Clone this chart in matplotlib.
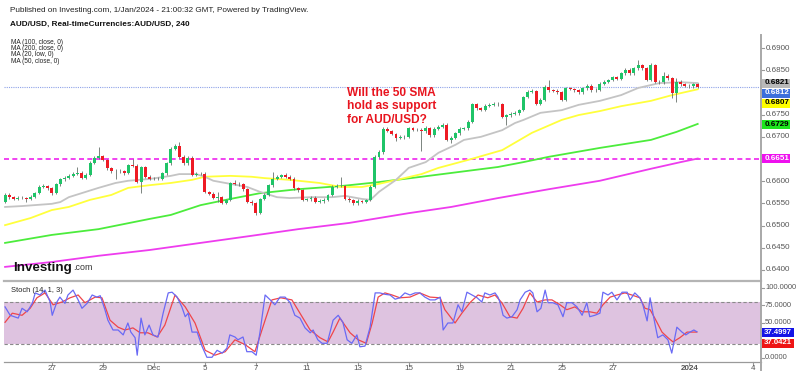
import matplotlib
matplotlib.use("Agg")
import matplotlib.pyplot as plt
from matplotlib import transforms
from matplotlib.patches import Rectangle
from matplotlib.lines import Line2D

plt.rcParams['font.family'] = ['Liberation Sans', 'DejaVu Sans']

W, H = 800, 376

# ---- AUD/USD 4h candles (bar index = one 4h bar) ----
first_open = 0.6554
close = [
    0.6570, 0.6564, 0.6561, 0.6563, 0.6562, 0.6561, 0.6565, 0.6573, 0.6588, 0.6589,
    0.6584, 0.6573, 0.6593, 0.6604, 0.6608, 0.6612, 0.6617, 0.6619, 0.6608, 0.6615,
    0.6642, 0.6653, 0.6657, 0.6648, 0.6629, 0.6623, 0.6624, 0.6623, 0.6618, 0.6636,
    0.6635, 0.6599, 0.6632, 0.6610, 0.6606, 0.6605, 0.6606, 0.6618, 0.6640, 0.6673,
    0.6680, 0.6655, 0.6640, 0.6653, 0.6615, 0.6616, 0.6617, 0.6576, 0.6572, 0.6563,
    0.6564, 0.6552, 0.6557, 0.6595, 0.6594, 0.6593, 0.6582, 0.6554, 0.6550, 0.6528,
    0.6560, 0.6569, 0.6591, 0.6605, 0.6610, 0.6614, 0.6610, 0.6606, 0.6584, 0.6580,
    0.6558, 0.6559, 0.6563, 0.6554, 0.6555, 0.6558, 0.6569, 0.6588, 0.6590, 0.6589,
    0.6561, 0.6558, 0.6550, 0.6555, 0.6554, 0.6558, 0.6588, 0.6655, 0.6665, 0.6718,
    0.6713, 0.6706, 0.6697, 0.6700, 0.6700, 0.6719, 0.6715, 0.6716, 0.6712, 0.6720,
    0.6703, 0.6718, 0.6723, 0.6727, 0.6693, 0.6698, 0.6708, 0.6718, 0.6719, 0.6734,
    0.6773, 0.6764, 0.6761, 0.6770, 0.6772, 0.6775, 0.6773, 0.6745, 0.6748, 0.6752,
    0.6753, 0.6760, 0.6790, 0.6802, 0.6803, 0.6775, 0.6784, 0.6813, 0.6805, 0.6804,
    0.6800, 0.6783, 0.6809, 0.6808, 0.6805, 0.6800, 0.6809, 0.6815, 0.6805, 0.6806,
    0.6820, 0.6824, 0.6828, 0.6835, 0.6830, 0.6843, 0.6851, 0.6843, 0.6854, 0.6862,
    0.6854, 0.6828, 0.6862, 0.6824, 0.6823, 0.6838, 0.6832, 0.6798, 0.6824, 0.6818,
    0.6815, 0.6814, 0.6818, 0.6812]
high = [
    0.6574, 0.6573, 0.6567, 0.6566, 0.6566, 0.6565, 0.6568, 0.6576, 0.6591, 0.6593,
    0.6592, 0.6586, 0.6596, 0.6607, 0.6612, 0.6616, 0.6621, 0.6633, 0.6622, 0.6619,
    0.6645, 0.6657, 0.6678, 0.6660, 0.6651, 0.6632, 0.6628, 0.6627, 0.6626, 0.6639,
    0.6651, 0.6638, 0.6635, 0.6635, 0.6613, 0.6609, 0.6609, 0.6621, 0.6643, 0.6676,
    0.6684, 0.6689, 0.6658, 0.6656, 0.6656, 0.6620, 0.6621, 0.6620, 0.6579, 0.6575,
    0.6575, 0.6567, 0.6560, 0.6598, 0.6602, 0.6598, 0.6596, 0.6585, 0.6557, 0.6553,
    0.6563, 0.6573, 0.6594, 0.6621, 0.6613, 0.6617, 0.6619, 0.6613, 0.6609, 0.6587,
    0.6583, 0.6563, 0.6567, 0.6566, 0.6559, 0.6562, 0.6572, 0.6591, 0.6594, 0.6610,
    0.6592, 0.6564, 0.6561, 0.6559, 0.6558, 0.6561, 0.6591, 0.6658, 0.6670, 0.6721,
    0.6722, 0.6716, 0.6709, 0.6704, 0.6704, 0.6722, 0.6723, 0.6720, 0.6719, 0.6724,
    0.6723, 0.6721, 0.6727, 0.6731, 0.6730, 0.6702, 0.6711, 0.6721, 0.6723, 0.6737,
    0.6776, 0.6777, 0.6768, 0.6773, 0.6776, 0.6779, 0.6779, 0.6776, 0.6752, 0.6755,
    0.6757, 0.6763, 0.6793, 0.6805, 0.6807, 0.6806, 0.6787, 0.6816, 0.6828, 0.6808,
    0.6807, 0.6803, 0.6812, 0.6812, 0.6811, 0.6808, 0.6812, 0.6818, 0.6818, 0.6809,
    0.6823, 0.6827, 0.6831, 0.6838, 0.6838, 0.6846, 0.6854, 0.6854, 0.6857, 0.6873,
    0.6865, 0.6857, 0.6866, 0.6865, 0.6827, 0.6845, 0.6841, 0.6835, 0.6833, 0.6827,
    0.6821, 0.6818, 0.6821, 0.6821]
low = [
    0.6551, 0.6561, 0.6558, 0.6558, 0.6559, 0.6554, 0.6558, 0.6563, 0.6571, 0.6585,
    0.6581, 0.6570, 0.6571, 0.6590, 0.6601, 0.6605, 0.6609, 0.6614, 0.6605, 0.6604,
    0.6612, 0.6639, 0.6650, 0.6645, 0.6626, 0.6619, 0.6606, 0.6619, 0.6615, 0.6616,
    0.6632, 0.6596, 0.6573, 0.6607, 0.6603, 0.6602, 0.6602, 0.6603, 0.6615, 0.6637,
    0.6670, 0.6652, 0.6637, 0.6637, 0.6612, 0.6612, 0.6613, 0.6573, 0.6569, 0.6560,
    0.6554, 0.6549, 0.6549, 0.6555, 0.6591, 0.6590, 0.6579, 0.6551, 0.6547, 0.6524,
    0.6525, 0.6557, 0.6567, 0.6588, 0.6602, 0.6607, 0.6607, 0.6602, 0.6581, 0.6576,
    0.6555, 0.6555, 0.6556, 0.6551, 0.6551, 0.6552, 0.6555, 0.6566, 0.6585, 0.6586,
    0.6558, 0.6554, 0.6546, 0.6547, 0.6551, 0.6551, 0.6555, 0.6585, 0.6652, 0.6662,
    0.6710, 0.6703, 0.6690, 0.6694, 0.6696, 0.6697, 0.6712, 0.6712, 0.6667, 0.6709,
    0.6700, 0.6700, 0.6715, 0.6720, 0.6690, 0.6686, 0.6695, 0.6705, 0.6715, 0.6716,
    0.6731, 0.6761, 0.6758, 0.6758, 0.6767, 0.6769, 0.6770, 0.6742, 0.6727, 0.6745,
    0.6749, 0.6750, 0.6757, 0.6787, 0.6799, 0.6772, 0.6772, 0.6781, 0.6802, 0.6801,
    0.6797, 0.6780, 0.6780, 0.6805, 0.6802, 0.6797, 0.6797, 0.6806, 0.6802, 0.6802,
    0.6803, 0.6817, 0.6821, 0.6825, 0.6827, 0.6827, 0.6840, 0.6840, 0.6840, 0.6851,
    0.6851, 0.6825, 0.6825, 0.6821, 0.6820, 0.6820, 0.6829, 0.6787, 0.6779, 0.6815,
    0.6812, 0.6811, 0.6811, 0.6809]

# ---- moving averages, read at sparse bars ----
ma20_x = [0, 4, 11, 13, 15, 19, 22, 26, 29, 34, 39, 41, 45, 47, 49, 53, 57, 60, 64, 67,
          72, 77, 80, 84, 86, 88, 92, 95, 99, 102, 106, 108, 112, 117, 120, 122, 126,
          131, 135, 140, 145, 149, 154, 159, 163]
ma20 = [0.6542, 0.6544, 0.6549, 0.6553, 0.6564, 0.6576, 0.6585, 0.6596, 0.6601, 0.6605,
        0.6612, 0.6616, 0.6616, 0.6610, 0.6601, 0.6594, 0.6587, 0.6576, 0.6564, 0.6562,
        0.6564, 0.6564, 0.6567, 0.6560, 0.6558, 0.6576, 0.6603, 0.6630, 0.6643, 0.6664,
        0.6682, 0.6693, 0.6700, 0.6715, 0.6731, 0.6738, 0.6754, 0.6760, 0.6772, 0.6781,
        0.6794, 0.6810, 0.6821, 0.6823, 0.6821]
ma50_x = [0, 6, 11, 15, 20, 25, 29, 34, 39, 44, 47, 53, 58, 61, 67, 74, 79, 84, 88, 94,
          98, 102, 109, 117, 124, 131, 135, 140, 145, 152, 157, 163]
ma50 = [0.6501, 0.6517, 0.6535, 0.6542, 0.6558, 0.6569, 0.6585, 0.6591, 0.6596, 0.6603,
        0.6610, 0.6612, 0.6610, 0.6607, 0.6603, 0.6596, 0.6587, 0.6587, 0.6594, 0.6607,
        0.6616, 0.6630, 0.6648, 0.6670, 0.6709, 0.6738, 0.6749, 0.6758, 0.6769, 0.6781,
        0.6794, 0.6807]
ma100_x = [0, 11, 22, 34, 39, 46, 53, 60, 69, 79, 88, 98, 107, 116, 122, 128, 140, 152, 158, 163]
ma100 = [0.6461, 0.6479, 0.6492, 0.6515, 0.6524, 0.6546, 0.6560, 0.6573, 0.6582, 0.6589,
         0.6598, 0.6610, 0.6621, 0.6632, 0.6643, 0.6655, 0.6675, 0.6693, 0.6711, 0.6729]
ma200_x = [0, 11, 22, 34, 46, 58, 69, 81, 95, 105, 116, 128, 140, 152, 159, 163]
ma200 = [0.6407, 0.6418, 0.6432, 0.6445, 0.6461, 0.6477, 0.6492, 0.6506, 0.6528, 0.6542,
         0.6562, 0.6582, 0.6601, 0.6628, 0.6643, 0.6651]

# ---- stochastic (14, 1, 3) ----
k_x = [0, 1.2, 3.1, 4, 5.2, 6.4, 7.1, 8.2, 9.4, 10.6, 11.1, 12.2, 12.9, 14.1, 14.8, 16, 17.2,
       18.1, 19.3, 20.5, 21.6, 22.4, 23.5, 24.2, 25.4, 26.6, 27.8, 28.9, 29.6, 30.6, 31.1, 32,
       32.9, 33.9, 34.8, 36, 37.2, 38.4, 39.3, 40.5, 41.6, 42.4, 43.1, 44, 45.2, 46.4, 47.5,
       48.7, 49.9, 51.1, 52.2, 52.9, 54.1, 54.8, 56, 56.9, 58.1, 59.1, 60, 61.2, 62.4, 63.5,
       64.7, 65.9, 67.1, 68.2, 69.4, 70.6, 71.8, 72.5, 73.6, 74.6, 75.8, 77.2, 78.4, 79.5,
       80.5, 81.6, 82.8, 83.5, 84.7, 85.9, 87.1, 88.2, 89.4, 90.6, 91.8, 92.9, 94.1, 95.3,
       96.5, 97.6, 98.8, 100, 101.2, 102.4, 103.1, 104.2, 105.4, 106.6, 107.5, 108.7, 109.9,
       111.1, 112.2, 112.9, 114.1, 115.3, 116, 116.5, 117.2, 118.1, 119.3, 120.5, 121.2,
       122.4, 123.5, 124.2, 125.2, 126.1, 127.1, 127.8, 128.9, 130.1, 131.3, 132.2, 133.4,
       134.6, 135.8, 136.9, 137.6, 138.8, 140, 140.7, 141.9, 142.8, 144, 145.2, 146.4, 147.1,
       148.2, 149.4, 150.1, 151.1, 151.8, 152.9, 153.6, 154.8, 156, 156.9, 158.1, 159.3,
       160.2, 161.2, 162.1, 162.8]
k_val = [73, 61, 57, 71, 66, 78, 93, 90, 97, 80, 61, 80, 87, 78, 90, 97, 83,
         71, 78, 90, 87, 89, 69, 54, 40, 40, 33, 50, 37, 29, 4, 57,
         33, 47, 33, 30, 64, 93, 94, 87, 73, 59, 64, 37, 37, 16, 1,
         1, 11, 7, 14, 33, 30, 26, 30, 9, 9, 4, 37, 90, 83, 76,
         87, 87, 79, 61, 57, 43, 36, 40, 26, 21, 21, 54, 61, 51,
         26, 21, 33, 16, 17, 44, 93, 93, 91, 90, 84, 86, 93, 90,
         93, 93, 87, 83, 83, 87, 40, 50, 50, 76, 66, 94, 90,
         86, 80, 93, 90, 93, 87, 79, 61, 57, 59, 69, 83,
         94, 97, 93, 66, 71, 97, 79, 79, 76, 59, 79, 79,
         73, 61, 79, 59, 61, 64, 94, 90, 94, 83, 94, 94, 83,
         93, 86, 76, 53, 86, 50, 29, 33, 26, 7, 44, 37,
         33, 37, 40, 37.4997]
d_x = [0, 1.7, 4, 5.9, 7.5, 9.4, 11.3, 13.4, 15.3, 17.2, 18.8, 21.2, 22.8, 24.7, 26.6, 28.2,
       30.1, 31.8, 33.6, 35.8, 37.6, 40, 42.4, 44.7, 47.1, 49.4, 51.8, 54.1, 56.5, 58.8, 61.2,
       62.8, 64.9, 67.5, 69.4, 71.8, 74.1, 76, 77.2, 78.8, 81.2, 83.1, 85, 86.4, 87.8, 89.4,
       91.1, 92.9, 95.3, 97.6, 100, 102.4, 103.5, 105.9, 107.5, 109.4, 111.3, 113.6, 115.3,
       116.9, 118.8, 120.5, 121.9, 123.5, 125.2, 127.1, 128.7, 130.6, 132.2, 134.1, 135.8,
       137.6, 139.3, 140.7, 142.4, 144, 145.9, 147.5, 149.4, 150.6, 151.8, 152.9, 154.6, 156,
       157.2, 158.8, 160.5, 161.6, 162.8]
d_val = [51, 64, 61, 71, 86, 93, 76, 80, 86, 90, 79, 87, 86, 54, 44, 40,
         43, 36, 36, 30, 47, 90, 73, 50, 11, 4, 9, 26, 19, 9, 54,
         83, 86, 83, 64, 40, 29, 23, 37, 57, 36, 26, 21, 50, 87, 93,
         90, 86, 87, 93, 87, 86, 69, 50, 64, 79, 90, 86, 90,
         79, 59, 57, 71, 93, 80, 83, 83, 76, 69, 73, 66,
         66, 64, 76, 87, 90, 93, 90, 86, 71, 69, 57, 37, 29,
         23, 29, 37, 37, 37.0421]

price_ticks = [0.6400, 0.6450, 0.6500, 0.6550, 0.6600, 0.6650, 0.6700, 0.6750, 0.6800, 0.6850, 0.6900]
stoch_ticks = [0, 50, 75, 100]
date_pos = [11, 23, 35, 47, 59, 71, 83, 95, 107, 119, 131, 143, 161, 176]
date_lbl = ["27", "29", "Dec", "5", "7", "11", "13", "15", "19", "21", "25", "27", "2024", "4"]
ma_names = ["MA (100, close, 0)", "MA (200, close, 0)", "MA (20, low, 0)", "MA (50, close, 0)"]
last_price = close[-1]
level_200 = ma200[-1]

GREEN, RED = '#1fc468', '#ee1b24'
C20, C50, C100, C200 = '#c4c4c4', '#ffff3c', '#4cec3c', '#ee3cee'


def fx(px):
    return px / W


def fy(py):
    return 1 - py / H


fig = plt.figure(figsize=(W / 100, H / 100), dpi=100)
fig.patch.set_facecolor('white')

ax = fig.add_axes([fx(4), fy(281), (761 - 4) / W, (281 - 35) / H])
axs = fig.add_axes([fx(4), fy(361), (761 - 4) / W, (361 - 281) / H])
for a in (ax, axs):
    a.set_xlim(-0.25, 177.9)
    a.set_xticks([])
    a.set_yticks([])
    for s in a.spines.values():
        s.set_visible(False)
ax.set_ylim(0.63752, 0.69293)
axs.set_ylim(-4.3, 110)

# horizontal levels
ax.axhline(level_200, color='#ee22ee', lw=1.2, dashes=(3, 2), zorder=1)
ax.axhline(last_price, color='#8fa3e8', lw=0.8, ls=(0, (1, 1)), zorder=1)

# moving averages
ax.plot(ma200_x, ma200, color=C200, lw=1.3, zorder=2)
ax.plot(ma100_x, ma100, color=C100, lw=1.3, zorder=2)
ax.plot(ma50_x, ma50, color=C50, lw=1.3, zorder=2)
ax.plot(ma20_x, ma20, color=C20, lw=1.3, zorder=2)

# candles
opens = [first_open] + close[:-1]
xs = list(range(len(close)))
ax.vlines(xs, low, high, color='#66706a', lw=0.6, zorder=3)
bottoms = [min(o, c) for o, c in zip(opens, close)]
heights = [max(abs(c - o), 0.00006) for o, c in zip(opens, close)]
cols = [GREEN if c >= o else RED for o, c in zip(opens, close)]
ax.bar(xs, heights, bottom=bottoms, width=0.7, color=cols, lw=0, zorder=4)

# stochastic panel
axs.axhspan(20, 80, color='#dec3e0', lw=0, zorder=0)
axs.axhline(80, color='#8a8a8a', lw=0.8, dashes=(3, 2), zorder=1)
axs.axhline(20, color='#8a8a8a', lw=0.8, dashes=(3, 2), zorder=1)
axs.plot(d_x, d_val, color='#f0454a', lw=0.9, zorder=2)
axs.plot(k_x, k_val, color='#6a6af5', lw=0.9, zorder=3)

# frame lines
fig.add_artist(Line2D([fx(4), fx(761)], [fy(281), fy(281)], color='#b4b4b4', lw=1.6))
fig.add_artist(Line2D([fx(4), fx(761)], [fy(361.5), fy(361.5)], color='#9a9a9a', lw=0.9))
fig.add_artist(Line2D([fx(761), fx(761)], [fy(35), fy(370)], color='#a8a8a8', lw=1.4))

# right price axis labels
tp = transforms.blended_transform_factory(fig.transFigure, ax.transData)
for p in price_ticks:
    ax.plot([fx(761), fx(764)], [p, p], transform=tp, color='#999999', lw=0.8, clip_on=False)
    ax.text(fx(766), p, f"{p:.4f}", transform=tp, fontsize=5.8, color='#555555',
            va='center', ha='left', clip_on=False)
ts = transforms.blended_transform_factory(fig.transFigure, axs.transData)
for v in stoch_ticks:
    axs.plot([fx(761), fx(764)], [v, v], transform=ts, color='#999999', lw=0.8, clip_on=False)
    axs.text(fx(765), v, f"{v:.4f}", transform=ts, fontsize=5.4, color='#555555',
             va='center', ha='left', clip_on=False)

# value boxes on the right axis
boxes = [
    (83, ma20[-1], '#b9b9b9', 'black'),
    (93, last_price, '#3b6fdc', 'white'),
    (103, ma50[-1], '#ffff00', 'black'),
    (124, ma100[-1], '#1ee61e', 'black'),
    (158, level_200, '#ee10ee', 'white'),
]
for yc, val, bg, fg in boxes:
    fig.add_artist(Rectangle((fx(762), fy(yc + 4.5)), 28 / W, 9 / H, color=bg, lw=0))
    fig.text(fx(765), fy(yc), f"{val:.4f}", fontsize=5.8, color=fg, weight='bold',
             va='center', ha='left')
sboxes = [(332, k_val[-1], '#1414e6'), (343, d_val[-1], '#ee1414')]
for yc, val, bg in sboxes:
    fig.add_artist(Rectangle((fx(762), fy(yc + 4.5)), 32 / W, 9 / H, color=bg, lw=0))
    fig.text(fx(764), fy(yc), f"{val:.4f}", fontsize=5.6, color='white', weight='bold',
             va='center', ha='left')

# date axis
td = transforms.blended_transform_factory(axs.transData, fig.transFigure)
for pos, lbl in zip(date_pos, date_lbl):
    axs.plot([pos, pos], [fy(361.5), fy(364.5)], transform=td, color='#999999', lw=0.8,
             clip_on=False)
    axs.text(pos, fy(368), lbl, transform=td, fontsize=5.8, color='#555555',
             weight='bold' if lbl == '2024' else 'normal', ha='center', va='center',
             clip_on=False)

# header texts
fig.text(fx(10), fy(10), "Published on Investing.com, 1/Jan/2024 - 21:00:32 GMT, Powered by TradingView.",
         fontsize=5.9, color='#222222', va='center')
fig.text(fx(10), fy(24), "AUD/USD, Real-timeCurrencies:AUD/USD, 240", fontsize=5.9,
         weight='bold', color='#111111', va='center')
for i, t in enumerate(ma_names):
    fig.text(fx(11), fy(42 + 6.5 * i), t, fontsize=4.7, color='#222222', va='center')
fig.text(fx(11), fy(291), "Stoch (14, 1, 3)", fontsize=5.4, color='#222222', va='center')

# annotation
for i, t in enumerate(["Will the 50 SMA", "hold as support", "for AUD/USD?"]):
    fig.text(fx(347), fy(93 + 13.5 * i), t, fontsize=8.6, weight='bold', color='#e8141e',
             va='center', ha='left')

# watermark: ".com" placed right after the measured end of "Investing"
logo = fig.text(fx(13), fy(270.5), "Investing", fontsize=9.6, weight='bold', color='#111111',
                va='baseline', ha='left')
fig.canvas.draw()
bb = logo.get_window_extent()
fig.text((bb.x1 + 1) / W, fy(270.5), ".com", fontsize=6.4, color='#333333',
         va='baseline', ha='left')

fig.savefig("out.png", dpi=100, facecolor='white')
